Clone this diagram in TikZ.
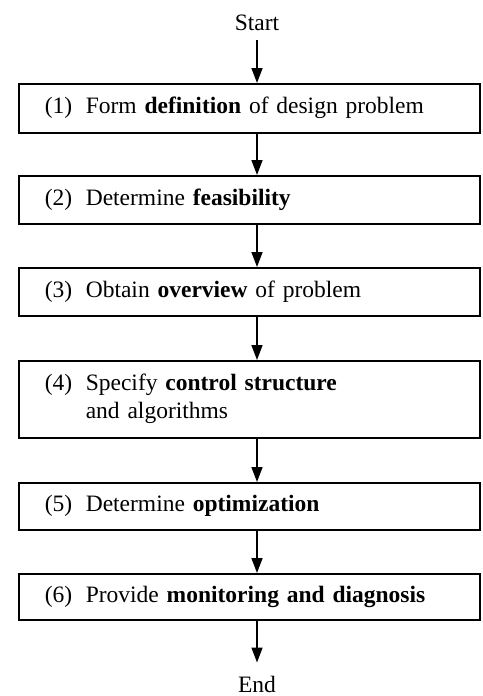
\documentclass[tikz,border=0pt]{standalone}
\usepackage{fontspec}
\setmainfont{Liberation Serif}
\usetikzlibrary{arrows.meta}
% numbered step text: fixed-width number column, hanging continuation lines
\newcommand\steptext[2]{\begin{tabular}{@{}p{41pt}@{}l@{}}#1&#2\end{tabular}}
\begin{document}
\begin{tikzpicture}[x=1pt,y=1pt,
  stepbox/.style={draw, line width=1.6pt, anchor=north west, inner xsep=26pt,
    inner ysep=0pt, text width=409pt, align=left, minimum height=48pt,
    font=\fontsize{23.5}{28}\selectfont},
  term/.style={inner sep=0pt, font=\fontsize{23.5}{28}\selectfont},
  flow/.style={line width=1.6pt, -{Triangle[length=15pt,width=11pt]}}]
\useasboundingbox (0,0) rectangle (482,-696);

\coordinate (axis) at (257,0);
\node[term, anchor=base] (start) at (257,-30) {Start};
\node[stepbox, minimum height=49pt] (b1) at (18,-83)
  {\steptext{(1)}{Form \textbf{definition} of design problem}};
\node[stepbox] (b2) at (18,-175)
  {\steptext{(2)}{Determine \textbf{feasibility}}};
\node[stepbox] (b3) at (18,-267)
  {\steptext{(3)}{Obtain \textbf{overview} of problem}};
\node[stepbox, minimum height=77pt] (b4) at (18,-360)
  {\steptext{(4)}{Specify \textbf{control structure}\\ & and algorithms}};
\node[stepbox, minimum height=47pt] (b5) at (18,-482)
  {\steptext{(5)}{Determine \textbf{optimization}}};
\node[stepbox, minimum height=46pt] (b6) at (18,-573)
  {\steptext{(6)}{Provide \textbf{monitoring and diagnosis}}};
\node[term, anchor=base] (end) at (257,-692) {End};

\draw[flow, shorten <=10pt] (start.south) -- (b1.north -| axis);
\draw[flow] (b1.south -| axis) -- (b2.north -| axis);
\draw[flow] (b2.south -| axis) -- (b3.north -| axis);
\draw[flow] (b3.south -| axis) -- (b4.north -| axis);
\draw[flow] (b4.south -| axis) -- (b5.north -| axis);
\draw[flow] (b5.south -| axis) -- (b6.north -| axis);
\draw[flow, shorten >=13pt] (b6.south -| axis) -- (end.north);
\end{tikzpicture}
\end{document}
